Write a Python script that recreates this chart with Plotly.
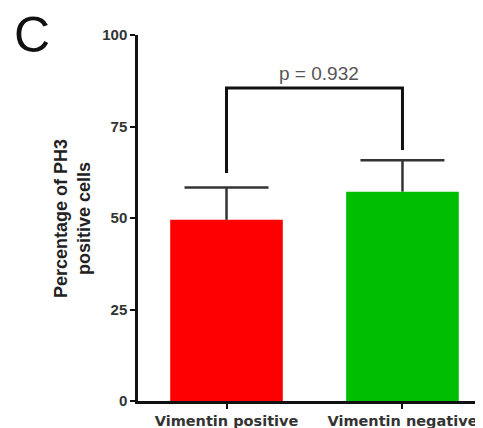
import plotly.graph_objects as go

categories = ["Vimentin positive", "Vimentin negative"]
means = [49.5, 57.2]
sem_upper = [8.8, 8.6]
bar_colors = ["#FF0000", "#00BE00"]
y_ticks = [0, 25, 50, 75, 100]

bracket_top = 85.5
bracket_left_bottom = 62.3
bracket_right_bottom = 68.6
p_label = "p = 0.932"

err_tops = [m + s for m, s in zip(means, sem_upper)]

fig = go.Figure()
fig.add_trace(go.Bar(
    x=categories, y=means, width=0.64,
    marker=dict(color=bar_colors, line=dict(width=0)),
    showlegend=False, hoverinfo="skip",
))
# error bar stems (upper only)
for c, m, t in zip(categories, means, err_tops):
    fig.add_trace(go.Scatter(
        x=[c, c], y=[m, t], mode="lines",
        line=dict(color="#333333", width=2.5),
        showlegend=False, hoverinfo="skip",
    ))
# error bar caps
fig.add_trace(go.Scatter(
    x=categories, y=err_tops, mode="markers",
    marker=dict(symbol="line-ew", size=60, color="#333333",
                line=dict(color="#333333", width=2.5)),
    showlegend=False, hoverinfo="skip",
))
fig.add_trace(go.Scatter(
    x=[categories[0], categories[0], categories[1], categories[1]],
    y=[bracket_left_bottom, bracket_top, bracket_top, bracket_right_bottom],
    mode="lines", line=dict(color="#111111", width=3),
    showlegend=False, hoverinfo="skip", cliponaxis=False,
))

fig.add_annotation(x=0.5, y=bracket_top, xref="x", yref="y", text=p_label,
                   showarrow=False, yanchor="bottom", yshift=2, xshift=5,
                   font=dict(family="Liberation Sans, Arial", size=19, color="#555555"))
fig.add_annotation(x=-0.192, y=0.5, xref="paper", yref="paper",
                   text="Percentage of PH3<br>positive cells", textangle=-90,
                   showarrow=False, xanchor="center", yanchor="middle",
                   font=dict(family="Liberation Sans, Arial", size=18, color="#222222",
                             weight="bold"))
fig.add_annotation(x=-0.365, y=1.0, xref="paper", yref="paper", text="C",
                   showarrow=False, xanchor="left", yanchor="middle",
                   font=dict(family="Liberation Sans, Arial", size=50, color="#111111"))

# page body has an 8px default margin; size and margins compensate for it
fig.update_layout(
    width=475, height=420,
    margin=dict(l=130, r=1, t=27, b=27, autoexpand=False),
    paper_bgcolor="white", plot_bgcolor="white",
)
fig.update_xaxes(
    type="category", range=[-0.503, 1.452],
    showline=True, linecolor="#111111", linewidth=2.5,
    ticks="outside", ticklen=5, tickwidth=2, tickcolor="#111111",
    showgrid=False, zeroline=False,
    tickfont=dict(family="DejaVu Sans", size=14.5, color="#333333", weight="bold"),
)
fig.update_yaxes(
    range=[0, 100], tickvals=y_ticks,
    showline=True, linecolor="#111111", linewidth=2.5,
    ticks="outside", ticklen=5, tickwidth=2, tickcolor="#111111",
    showgrid=False, zeroline=False,
    tickfont=dict(family="Liberation Sans, Arial", size=15, color="#333333", weight="bold"),
)

fig.write_html("out.html")
